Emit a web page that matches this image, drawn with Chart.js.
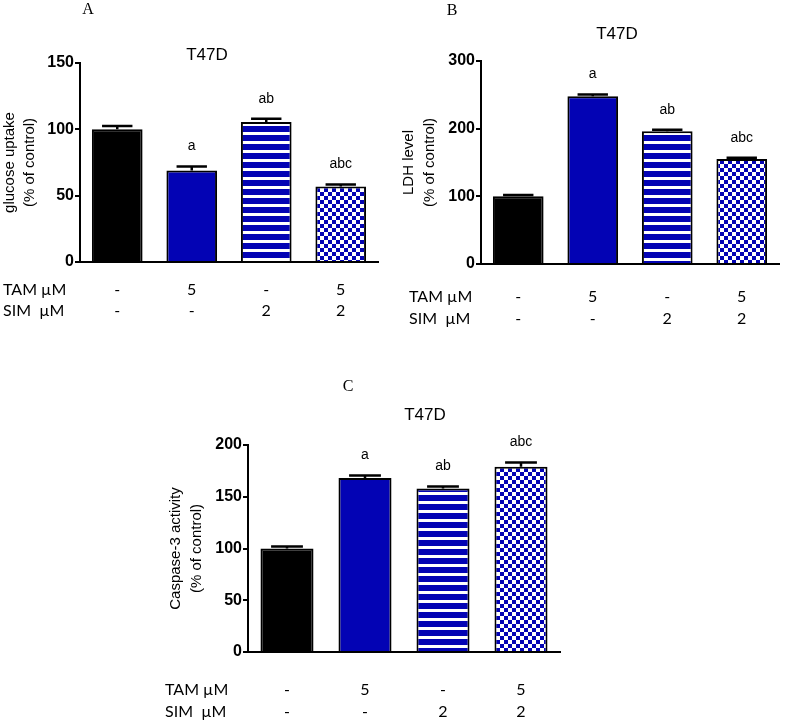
<!DOCTYPE html>
<html>
<head>
<meta charset="utf-8">
<script src="https://cdn.jsdelivr.net/npm/chart.js@4.4.0/dist/chart.umd.min.js"></script>
<style>
  html, body { margin: 0; padding: 0; background: #fff; }
  #wrap { position: relative; width: 791px; height: 722px; }
  #wrap canvas { position: absolute; left: 0; top: 0; }
</style>
</head>
<body>
<div id="wrap">
  <canvas id="chartA" width="791" height="722"></canvas>
  <canvas id="chartB" width="791" height="722"></canvas>
  <canvas id="chartC" width="791" height="722"></canvas>
</div>
<script>
// groups and treatment table
const groups = ['Control', 'TAM', 'SIM', 'TAM+SIM'];
const tamDose = ['-', '5', '-', '5'];
const simDose = ['-', '-', '2', '2'];
const sigLetters = ['', 'a', 'ab', 'abc'];

// A: glucose uptake (% of control)
const glucoseUptake = [100, 69, 105.5, 57];
const glucoseErr = [2.5, 3, 2.5, 1.5];
const glucoseTicks = [0, 50, 100, 150];

// B: LDH level (% of control)
const ldhLevel = [100, 248, 196, 155];
const ldhErr = [2, 2.5, 2.5, 2];
const ldhTicks = [0, 100, 200, 300];

// C: caspase-3 activity (% of control)
const caspase3 = [100, 168, 158, 179];
const caspase3Err = [2, 2.5, 2, 4];
const caspaseTicks = [0, 50, 100, 150, 200];

const BLUE = '#0303b4';
const SANS = '"Liberation Sans", Arial, sans-serif';

function makeStripes() {
    const c = document.createElement('canvas');
    c.width = 8; c.height = 9;
    const g = c.getContext('2d');
    g.fillStyle = BLUE; g.fillRect(0, 0, 8, 9);
    g.fillStyle = '#fff'; g.fillRect(0, 6, 8, 3);
    return g.createPattern(c, 'repeat');
}

function makeChecker() {
    const c = document.createElement('canvas');
    c.width = 8; c.height = 8;
    const g = c.getContext('2d');
    g.fillStyle = '#fff'; g.fillRect(0, 0, 8, 8);
    g.fillStyle = BLUE;
    g.fillRect(0, 0, 4, 4);
    g.fillRect(4, 4, 4, 4);
    return g.createPattern(c, 'repeat');
}

const fills = ['#000', BLUE, makeStripes(), makeChecker()];

// upper error whisker + significance letters
const errorBars = {
    id: 'errorBars',
    afterDatasetsDraw(chart, args, opts) {
        const { ctx } = chart;
        const y = chart.scales.y;
        const ds = chart.data.datasets[0];
        ctx.save();
        ctx.strokeStyle = '#000';
        ctx.fillStyle = '#000';
        ctx.lineWidth = 2.5;
        ctx.font = '14px ' + SANS;
        ctx.textAlign = 'center';
        ctx.textBaseline = 'middle';
        chart.getDatasetMeta(0).data.forEach((bar, i) => {
            const top = y.getPixelForValue(ds.data[i] + opts.err[i]);
            const half = bar.width * 0.3;
            ctx.beginPath();
            ctx.moveTo(bar.x, bar.y);
            ctx.lineTo(bar.x, top);
            ctx.moveTo(bar.x - half, top);
            ctx.lineTo(bar.x + half, top);
            ctx.stroke();
            if (sigLetters[i]) ctx.fillText(sigLetters[i], bar.x, top - 20);
        });
        ctx.restore();
    }
};

// panel letter, title, axis title and dose table
const panelText = {
    id: 'panelText',
    afterDraw(chart, args, o) {
        const { ctx, chartArea } = chart;
        const x = chart.scales.x;
        ctx.save();
        ctx.fillStyle = '#000';
        ctx.textAlign = 'center';
        ctx.textBaseline = 'middle';

        ctx.font = '16px "Liberation Serif", "Times New Roman", serif';
        ctx.fillText(o.letter, o.letterX, o.letterY);

        ctx.font = '17px ' + SANS;
        ctx.fillText('T47D', o.titleX, o.titleY);

        ctx.font = '15px ' + SANS;
        const midY = (chartArea.top + chartArea.bottom) / 2;
        o.yLabel.forEach((line, k) => {
            ctx.save();
            ctx.translate(o.yLabelX[k], midY);
            ctx.rotate(-Math.PI / 2);
            ctx.fillText(line, 0, 0);
            ctx.restore();
        });

        ctx.font = '16px Lato, "Open Sans", sans-serif';
        ctx.textAlign = 'left';
        ctx.fillText('TAM \u00b5M', o.rowX, o.rowY[0]);
        ctx.fillText('SIM  \u00b5M', o.rowX, o.rowY[1]);
        ctx.textAlign = 'center';
        groups.forEach((g, i) => {
            const px = x.getPixelForValue(i);
            ctx.fillText(tamDose[i], px, o.rowY[0]);
            ctx.fillText(simDose[i], px, o.rowY[1]);
        });
        ctx.restore();
    }
};

function makePanel(id, values, errs, ticks, area, text) {
    const yAxisW = 60;
    return new Chart(document.getElementById(id), {
        type: 'bar',
        data: {
            labels: groups,
            datasets: [{
                data: values,
                backgroundColor: fills,
                borderColor: '#000',
                borderWidth: 2,
                barPercentage: 0.68,
                categoryPercentage: 1
            }]
        },
        options: {
            responsive: false,
            animation: false,
            events: [],
            layout: {
                padding: {
                    left: area.left - yAxisW,
                    top: area.top,
                    right: 791 - area.right,
                    bottom: 722 - area.bottom
                }
            },
            scales: {
                x: {
                    grid: { display: false },
                    border: { color: '#000', width: 2 },
                    ticks: { display: false },
                    afterFit: s => { s.height = 0; }
                },
                y: {
                    min: ticks[0],
                    max: ticks[ticks.length - 1],
                    afterBuildTicks: s => { s.ticks = ticks.map(v => ({ value: v })); },
                    ticks: {
                        color: '#000',
                        padding: 1,
                        font: { family: SANS, size: 16, weight: 'bold' }
                    },
                    grid: { drawOnChartArea: false, drawTicks: true, tickLength: 5, color: '#000', lineWidth: 2 },
                    border: { color: '#000', width: 2 },
                    afterFit: s => { s.width = yAxisW; }
                }
            },
            plugins: {
                legend: { display: false },
                tooltip: { enabled: false },
                errorBars: { err: errs },
                panelText: text
            }
        },
        plugins: [errorBars, panelText]
    });
}

makePanel('chartA', glucoseUptake, glucoseErr, glucoseTicks,
    { left: 80, top: 63, right: 378, bottom: 262 },
    { letter: 'A', letterX: 88, letterY: 10, titleX: 207, titleY: 55,
      yLabel: ['glucose uptake', '(% of control)'], yLabelX: [10, 30],
      rowX: 3, rowY: [290, 311] });

makePanel('chartB', ldhLevel, ldhErr, ldhTicks,
    { left: 481, top: 61, right: 779, bottom: 264 },
    { letter: 'B', letterX: 452, letterY: 11, titleX: 617, titleY: 34,
      yLabel: ['LDH level', '(% of control)'], yLabelX: [409, 430],
      rowX: 409, rowY: [297, 319] });

makePanel('chartC', caspase3, caspase3Err, caspaseTicks,
    { left: 248, top: 445, right: 560, bottom: 652 },
    { letter: 'C', letterX: 348, letterY: 387, titleX: 425, titleY: 415,
      yLabel: ['Caspase-3 activity', '(% of control)'], yLabelX: [176, 197],
      rowX: 165, rowY: [690, 712] });
</script>
</body>
</html>
